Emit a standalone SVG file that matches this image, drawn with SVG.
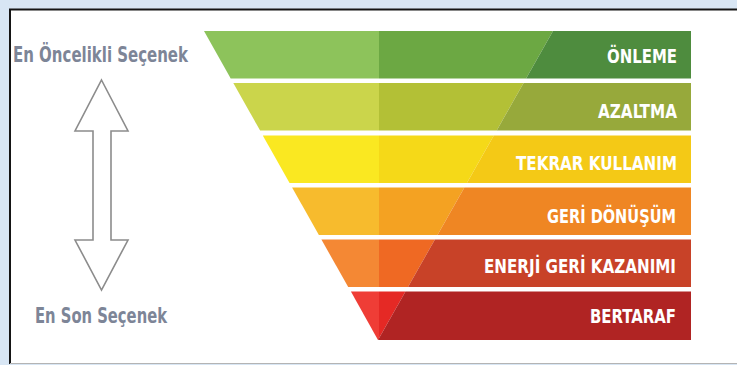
<svg xmlns="http://www.w3.org/2000/svg" width="737" height="365" viewBox="0 0 737 365">
  <style>
    .lbl { font-family: "DejaVu Sans Condensed", "DejaVu Sans", "Liberation Sans", sans-serif; font-weight: bold; font-size: 19.5px; fill: #ffffff; text-anchor: end; }
    .side { font-family: "DejaVu Sans Condensed", "DejaVu Sans", "Liberation Sans", sans-serif; font-weight: bold; font-size: 20.5px; fill: #7d8597; }
    .arrow { fill: #ffffff; stroke: #8c8c8c; stroke-width: 1.6; stroke-linejoin: miter; }
  </style>

  <!-- page backdrop and framed panel -->
  <rect x="0" y="0" width="737" height="365" fill="#d8e6f4"/>
  <rect x="10" y="9" width="727" height="354" fill="#ffffff"/>
  <line x1="9" y1="9.5" x2="737" y2="9.5" stroke="#151515" stroke-width="2"/>
  <line x1="10" y1="9" x2="10" y2="364" stroke="#151515" stroke-width="2"/>
  <line x1="10" y1="363.5" x2="737" y2="363.5" stroke="#b4b4b4" stroke-width="1"/>

  <!-- priority scale on the left -->
  <g id="priority-scale">
    <text class="side" x="13" y="62" textLength="175" lengthAdjust="spacingAndGlyphs">En Öncelikli Seçenek</text>
    <polygon class="arrow" points="101.5,80 128,131 111,131 111,240 128,240 101.5,290 75,240 93,240 93,131 75,131"/>
    <text class="side" x="35" y="323" textLength="132" lengthAdjust="spacingAndGlyphs">En Son Seçenek</text>
  </g>

  <!-- waste hierarchy funnel, one band per level -->
  <g id="onleme">
    <polygon fill="#8dc35b" points="204,31 379,31 379,78.5 230.7,78.5"/>
    <polygon fill="#6ca843" points="379,31 553,31 526.1,78.5 379,78.5"/>
    <polygon fill="#4e8c3e" points="553,31 691,31 691,78.5 526.1,78.5"/>
    <text class="lbl" x="677" y="63" textLength="70" lengthAdjust="spacingAndGlyphs">ÖNLEME</text>
  </g>

  <g id="azaltma">
    <polygon fill="#cbd54b" points="233.3,83 379,83 379,130.5 260.1,130.5"/>
    <polygon fill="#b3c036" points="379,83 523.6,83 496.7,130.5 379,130.5"/>
    <polygon fill="#97a93b" points="523.6,83 691,83 691,130.5 496.7,130.5"/>
    <text class="lbl" x="677" y="118" textLength="79" lengthAdjust="spacingAndGlyphs">AZALTMA</text>
  </g>

  <g id="tekrar-kullanim">
    <polygon fill="#fae821" points="262.8,135.5 379,135.5 379,183 289.6,183"/>
    <polygon fill="#f5d918" points="379,135.5 493.8,135.5 466.9,183 379,183"/>
    <polygon fill="#f4c916" points="493.8,135.5 691,135.5 691,183 466.9,183"/>
    <text class="lbl" x="677" y="170" textLength="161" lengthAdjust="spacingAndGlyphs">TEKRAR KULLANIM</text>
  </g>

  <g id="geri-donusum">
    <polygon fill="#f7bb2d" points="292.1,187.5 379,187.5 379,235 318.9,235"/>
    <polygon fill="#f4a222" points="379,187.5 464.4,187.5 437.5,235 379,235"/>
    <polygon fill="#ef8623" points="464.4,187.5 691,187.5 691,235 437.5,235"/>
    <text class="lbl" x="676" y="223" textLength="129" lengthAdjust="spacingAndGlyphs">GERİ DÖNÜŞÜM</text>
  </g>

  <g id="enerji-geri-kazanimi">
    <polygon fill="#f48834" points="321.4,239.5 379,239.5 379,287 348.2,287"/>
    <polygon fill="#ef6923" points="379,239.5 434.9,239.5 408,287 379,287"/>
    <polygon fill="#c84228" points="434.9,239.5 691,239.5 691,287 408,287"/>
    <text class="lbl" x="676" y="273" textLength="192" lengthAdjust="spacingAndGlyphs">ENERJİ GERİ KAZANIMI</text>
  </g>

  <g id="bertaraf">
    <polygon fill="#ef3d36" points="350.9,291.5 379,291.5 379,338.3 378,340"/>
    <polygon fill="#e52925" points="379,291.5 405.5,291.5 379,338.3"/>
    <polygon fill="#b02423" points="405.5,291.5 691,291.5 691,340 378,340"/>
    <text class="lbl" x="676" y="322.5" textLength="86" lengthAdjust="spacingAndGlyphs">BERTARAF</text>
  </g>

  <g id="connectors"/>
</svg>
